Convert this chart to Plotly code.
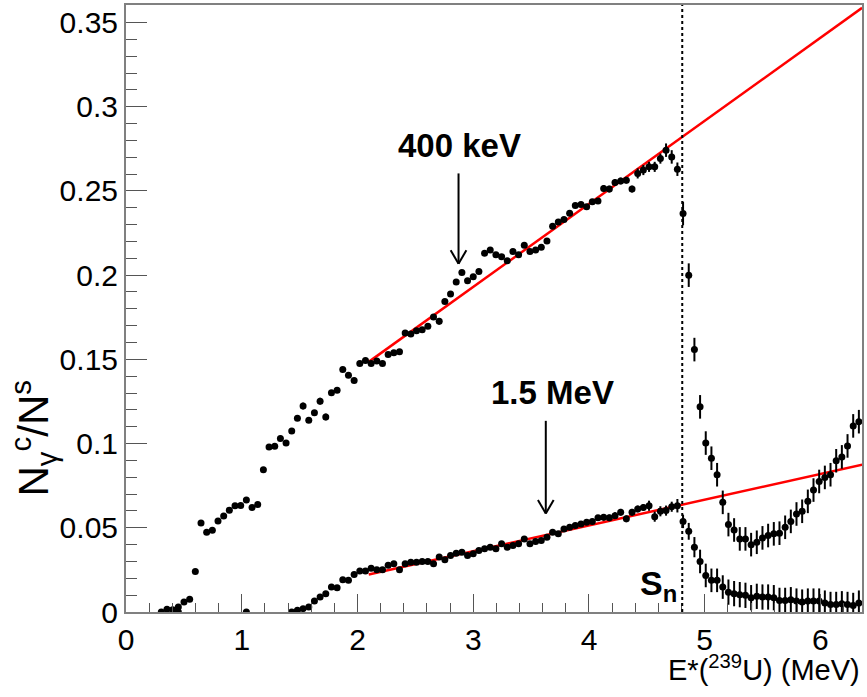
import plotly.graph_objects as go

# ---------------- data ----------------
# bin centres (MeV)
energy = [0.305, 0.354, 0.403, 0.452, 0.501, 0.550, 0.599, 0.648, 0.697, 0.746,
          0.795, 0.844, 0.893, 0.942, 0.991, 1.040, 1.089, 1.138, 1.187, 1.236,
          1.285, 1.334, 1.383, 1.432, 1.481, 1.530, 1.579, 1.628, 1.677, 1.726,
          1.775, 1.824, 1.873, 1.922, 1.971, 2.020, 2.069, 2.118, 2.167, 2.216,
          2.265, 2.314, 2.363, 2.412, 2.461, 2.510, 2.559, 2.608, 2.657, 2.706,
          2.755, 2.804, 2.853, 2.902, 2.951, 3.000, 3.049, 3.098, 3.147, 3.196,
          3.245, 3.294, 3.343, 3.392, 3.441, 3.490, 3.539, 3.588, 3.637, 3.686,
          3.735, 3.784, 3.833, 3.882, 3.931, 3.980, 4.029, 4.078, 4.127, 4.176,
          4.225, 4.274, 4.323, 4.372, 4.421, 4.470, 4.519, 4.568, 4.617, 4.666,
          4.715, 4.764, 4.813, 4.862, 4.911, 4.960, 5.009, 5.058, 5.107, 5.156,
          5.205, 5.254, 5.303, 5.352, 5.401, 5.450, 5.499, 5.548, 5.597, 5.646,
          5.695, 5.744, 5.793, 5.842, 5.891, 5.940, 5.989, 6.038, 6.087, 6.136,
          6.185, 6.234, 6.283, 6.332]

# upper series (400 keV gate)
ratio_upper = [0.0000, 0.0016, 0.0014, 0.0030, 0.0060, 0.0075, 0.0240, 0.0529, 0.0473, 0.0485,
               0.0540, 0.0570, 0.0604, 0.0631, 0.0633, 0.0665, 0.0621, 0.0639, 0.0844, 0.0979,
               0.0984, 0.1030, 0.1004, 0.1075, 0.1150, 0.1223, 0.1138, 0.1183, 0.1252, 0.1158,
               0.1302, 0.1316, 0.1440, 0.1406, 0.1375, 0.1476, 0.1493, 0.1476, 0.1490, 0.1476,
               0.1529, 0.1540, 0.1545, 0.1657, 0.1651, 0.1670, 0.1676, 0.1696, 0.1751, 0.1726,
               0.1844, 0.1888, 0.1959, 0.2016, 0.1967, 0.1990, 0.2022, 0.2130, 0.2150, 0.2121,
               0.2110, 0.2085, 0.2140, 0.2121, 0.2177, 0.2140, 0.2150, 0.2166, 0.2203, 0.2291,
               0.2316, 0.2330, 0.2368, 0.2413, 0.2420, 0.2406, 0.2436, 0.2440, 0.2515, 0.2511,
               0.2550, 0.2559, 0.2564, 0.2511, 0.2604, 0.2624, 0.2643, 0.2643, 0.2692, 0.2742,
               0.2702, 0.2629, 0.2366, 0.2000, 0.1558, 0.1218, 0.1003, 0.0913, 0.0815, 0.0651,
               0.0519, 0.0487, 0.0434, 0.0434, 0.0400, 0.0414, 0.0440, 0.0454, 0.0464, 0.0468,
               0.0503, 0.0538, 0.0582, 0.0598, 0.0657, 0.0724, 0.0775, 0.0799, 0.0815, 0.0898,
               0.0921, 0.0986, 0.1105, 0.1130]
err_upper = [
    0.001, 0.001, 0.001, 0.001, 0.001, 0.001, 0.001, 0.001, 0.001, 0.001,
    0.001, 0.001, 0.001, 0.001, 0.001, 0.001, 0.001, 0.001, 0.001, 0.001,
    0.001, 0.001, 0.001, 0.001, 0.001, 0.002, 0.001, 0.001, 0.002, 0.002,
    0.001, 0.001, 0.001, 0.001, 0.001, 0.001, 0.001, 0.001, 0.001, 0.001,
    0.001, 0.001, 0.001, 0.001, 0.001, 0.001, 0.001, 0.001, 0.001, 0.002,
    0.001, 0.001, 0.001, 0.001, 0.001, 0.001, 0.001, 0.001, 0.001, 0.001,
    0.0015, 0.0015, 0.0015, 0.0015, 0.0015, 0.0015, 0.0015, 0.0015, 0.0015, 0.0015,
    0.0015, 0.0015, 0.0015, 0.0015, 0.0015, 0.0015, 0.0015, 0.0015, 0.002, 0.002,
    0.002, 0.002, 0.002, 0.002, 0.003, 0.003, 0.003, 0.003, 0.003, 0.004,
    0.004, 0.004, 0.007, 0.007, 0.007, 0.007, 0.007, 0.007, 0.007, 0.007,
    0.007, 0.007, 0.007, 0.007, 0.007, 0.007, 0.007, 0.007, 0.007, 0.007,
    0.007, 0.007, 0.007, 0.007, 0.007, 0.007, 0.007, 0.007, 0.007, 0.007,
    0.007, 0.007, 0.007, 0.007]

# lower series (1.5 MeV gate), starts at bin index 23; two isolated zero bins earlier
energy_lower_extra = [0.452, 1.040]
ratio_lower_extra = [0.0, 0.0]
ratio_lower = [0.0000, 0.0010, 0.0020, 0.0030, 0.0065, 0.0089, 0.0109, 0.0148, 0.0144, 0.0192,
               0.0188, 0.0223, 0.0243, 0.0243, 0.0260, 0.0251, 0.0251, 0.0278, 0.0286, 0.0251,
               0.0286, 0.0296, 0.0296, 0.0300, 0.0300, 0.0286, 0.0326, 0.0310, 0.0336, 0.0349,
               0.0355, 0.0336, 0.0346, 0.0365, 0.0375, 0.0385, 0.0375, 0.0405, 0.0385, 0.0395,
               0.0405, 0.0434, 0.0405, 0.0418, 0.0424, 0.0444, 0.0473, 0.0464, 0.0493, 0.0503,
               0.0513, 0.0523, 0.0533, 0.0538, 0.0559, 0.0562, 0.0559, 0.0572, 0.0592, 0.0553,
               0.0592, 0.0612, 0.0621, 0.0631, 0.0566, 0.0598, 0.0602, 0.0625, 0.0631, 0.0538,
               0.0479, 0.0385, 0.0300, 0.0217, 0.0188, 0.0188, 0.0148, 0.0118, 0.0109, 0.0103,
               0.0099, 0.0085, 0.0093, 0.0089, 0.0089, 0.0085, 0.0069, 0.0069, 0.0073, 0.0065,
               0.0059, 0.0065, 0.0065, 0.0065, 0.0053, 0.0045, 0.0045, 0.0049, 0.0045, 0.0039,
               0.0053]
err_lower = [0.001, 0.001, 0.001, 0.001, 0.001, 0.001, 0.001, 0.001, 0.001, 0.001,
             0.001, 0.001, 0.001, 0.001, 0.001, 0.001, 0.001, 0.001, 0.001, 0.001,
             0.001, 0.001, 0.001, 0.001, 0.001, 0.001, 0.001, 0.001, 0.001, 0.001,
             0.001, 0.001, 0.001, 0.001, 0.001, 0.001, 0.001, 0.0015, 0.0015, 0.0015,
             0.0015, 0.0015, 0.0015, 0.0015, 0.0015, 0.0015, 0.0015, 0.0015, 0.0015, 0.0015,
             0.0015, 0.0015, 0.0015, 0.0015, 0.0015, 0.002, 0.002, 0.002, 0.002, 0.002,
             0.002, 0.002, 0.002, 0.003, 0.003, 0.003, 0.003, 0.003, 0.004, 0.004,
             0.005, 0.006, 0.007, 0.007, 0.007, 0.007, 0.007, 0.0075, 0.0075, 0.0075,
             0.0075, 0.0075, 0.0075, 0.0075, 0.0075, 0.0075, 0.0075, 0.0075, 0.0075, 0.0075,
             0.0075, 0.0075, 0.0075, 0.0075, 0.0075, 0.0075, 0.0075, 0.0075, 0.0075, 0.0075,
             0.0075]

# linear fits (end points)
fit_x = [2.097, 6.36]
fit_upper = [0.1485, 0.3587]
fit_lower = [0.0223, 0.0875]

S_n = 4.806

x_ticks = [0, 1, 2, 3, 4, 5, 6]
y_ticks = [0, 0.05, 0.1, 0.15, 0.2, 0.25, 0.3, 0.35]
y_ticktext = ["0", "0.05", "0.1", "0.15", "0.2", "0.25", "0.3", "0.35"]

# ---------------- figure ----------------
FONT = "Liberation Sans, Arial, sans-serif"
idx0 = 23
fig = go.Figure()

fig.add_trace(go.Scatter(x=fit_x, y=fit_upper, mode="lines",
                         line=dict(color="#ff0000", width=2.5), showlegend=False))
fig.add_trace(go.Scatter(x=fit_x, y=fit_lower, mode="lines",
                         line=dict(color="#ff0000", width=2.5), showlegend=False))

marker = dict(color="black", size=7)
ebar = dict(type="data", visible=True, color="black", thickness=2, width=0)

fig.add_trace(go.Scatter(x=energy, y=ratio_upper, mode="markers", marker=marker,
                         error_y=dict(array=err_upper, **ebar), showlegend=False))
fig.add_trace(go.Scatter(x=energy[idx0:], y=ratio_lower, mode="markers", marker=marker,
                         error_y=dict(array=err_lower, **ebar), showlegend=False))
fig.add_trace(go.Scatter(x=energy_lower_extra, y=ratio_lower_extra, mode="markers",
                         marker=marker, showlegend=False))

# S_n dotted line
fig.add_shape(type="line", xref="x", yref="paper", x0=S_n, x1=S_n, y0=0, y1=1,
              line=dict(color="black", width=2, dash="dot"))

# arrows (open V heads)
def add_arrow(x, y_tail, y_tip, dx=0.068, dy=0.0080):
    fig.add_shape(type="line", xref="x", yref="y", x0=x, x1=x, y0=y_tail, y1=y_tip,
                  line=dict(color="black", width=2))
    fig.add_shape(type="line", xref="x", yref="y", x0=x - dx, x1=x, y0=y_tip + dy, y1=y_tip,
                  line=dict(color="black", width=2))
    fig.add_shape(type="line", xref="x", yref="y", x0=x + dx, x1=x, y0=y_tip + dy, y1=y_tip,
                  line=dict(color="black", width=2))

add_arrow(2.873, 0.2604, 0.2068)
add_arrow(3.627, 0.1135, 0.0585)

fig.add_annotation(x=2.88, y=0.2770, xref="x", yref="y", text="<b>400 keV</b>",
                   showarrow=False, font=dict(family=FONT, size=33, color="black"),
                   xanchor="center", yanchor="middle")
fig.add_annotation(x=3.684, y=0.1302, xref="x", yref="y", text="<b>1.5 MeV</b>",
                   showarrow=False, font=dict(family=FONT, size=33, color="black"),
                   xanchor="center", yanchor="middle")
fig.add_annotation(x=4.60, y=0.0155, xref="x", yref="y",
                   text="<b>S<sub>n</sub></b>",
                   showarrow=False, font=dict(family=FONT, size=34, color="black"),
                   xanchor="center", yanchor="middle")

# axis titles
fig.add_annotation(x=1.0, y=-0.093, xref="paper", yref="paper",
                   text="E*(<sup>239</sup>U) (MeV)", showarrow=False,
                   font=dict(family=FONT, size=29, color="black"),
                   xanchor="right", yanchor="middle")
fig.add_annotation(x=-0.127, y=0.285, xref="paper", yref="paper",
                   text="N<sub>γ</sub><sup>c</sup>/N<sup>s</sup>", showarrow=False,
                   textangle=-90,
                   font=dict(family=FONT, size=42, color="black"),
                   xanchor="center", yanchor="middle")

axis_common = dict(showline=True, linecolor="#808080", linewidth=2, mirror=True,
                   ticks="inside", tickcolor="#555555", tickwidth=1,
                   showgrid=False, zeroline=False,
                   tickfont=dict(family=FONT, size=30, color="black"))

fig.update_xaxes(range=[0, 6.359], tickvals=x_ticks, ticklen=18,
                 minor=dict(ticks="inside", dtick=0.2, ticklen=9, tickcolor="#555555",
                            showgrid=False),
                 **axis_common)
fig.update_yaxes(range=[0, 0.3604], tickvals=y_ticks, ticktext=y_ticktext, ticklen=21,
                 minor=dict(ticks="inside", dtick=0.01, ticklen=11, tickcolor="#555555",
                            showgrid=False),
                 **axis_common)

fig.update_layout(width=867, height=697,
                  margin=dict(l=126, r=4, t=3, b=85),
                  paper_bgcolor="white", plot_bgcolor="white",
                  showlegend=False)

fig.write_html("out.html", config={"displayModeBar": False},
               post_script="document.body.style.margin='0';document.body.style.padding='0';"
                           "document.body.style.overflow='hidden';")
